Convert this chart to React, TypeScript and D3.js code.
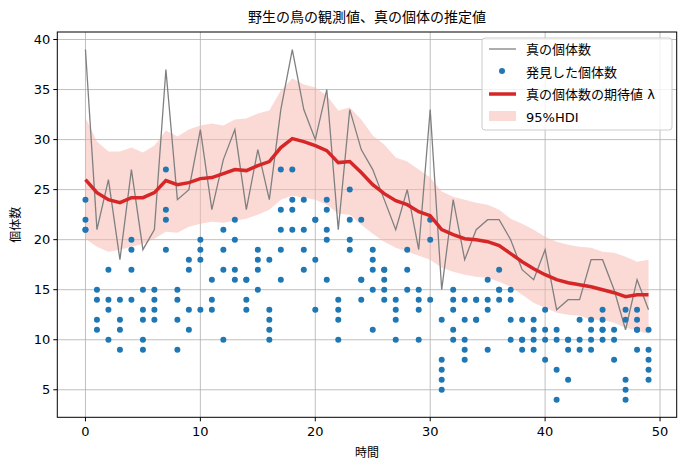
import * as d3 from "d3";

const trueCount = [39, 21, 26, 18, 27, 19, 21, 37, 24, 25, 31, 23, 28, 31, 23, 29, 24, 33, 39, 33, 30, 35, 21, 33, 29, 27, 24, 21, 25, 19, 33, 15, 24, 18, 21, 22, 22, 20, 17, 16, 19, 13, 14, 14, 18, 18, 15, 11, 16, 13];
const lambda = [26, 24.7, 24, 23.7, 24.2, 24.2, 24.7, 25.9, 25.5, 25.7, 26.1, 26.2, 26.6, 27, 26.9, 27.4, 27.8, 29.2, 30.1, 29.8, 29.4, 28.9, 27.7, 27.8, 26.7, 25.5, 24.6, 23.9, 23.5, 22.8, 22.4, 21, 20.5, 20.1, 20, 19.8, 19.4, 18.6, 17.8, 17.1, 16.5, 16, 15.7, 15.5, 15.3, 15, 14.7, 14.3, 14.5, 14.5];
const hdiUpper = [32.2, 29.8, 28.8, 28.8, 29.2, 28.7, 29.4, 30.9, 30.3, 31, 31.4, 31.6, 31.4, 32, 32.1, 32.6, 32.9, 34.9, 36.1, 35.5, 35.2, 34.4, 32.9, 33.2, 32, 30.4, 29.5, 28.2, 27.8, 27, 26.2, 24.8, 24.3, 24, 23.7, 23.5, 23, 22.1, 21.6, 21, 20.3, 19.8, 19.5, 19.3, 19.2, 18.8, 18.7, 18.3, 17.8, 18];
const hdiLower = [20.1, 19.3, 18.8, 19, 19.3, 19.6, 20.1, 20.8, 20.7, 21.3, 21.6, 21.8, 21.7, 21.9, 22.1, 22.5, 23, 24, 24.4, 24.2, 24, 23.5, 22.6, 22.5, 21.5, 20.6, 19.8, 19.2, 18.8, 18.4, 18, 17.2, 16.8, 16.5, 16.3, 16.2, 15.8, 15.3, 14.5, 13.7, 13.2, 12.7, 12.5, 12.4, 12, 12, 11.7, 11.2, 10.9, 10.6];
// observed counts for each time step
const observed = [
  [24, 22, 21, 21], [15, 14, 12, 11], [17, 14, 13, 10], [14, 12, 11, 9], [20, 19, 17, 14],
  [15, 13, 12, 10, 9], [15, 14, 13, 12], [27, 23, 22, 19], [15, 14, 12, 9], [18, 17, 13, 11],
  [20, 19, 18, 13], [16, 14, 13], [21, 19, 17, 10], [22, 20, 17, 16], [16, 16, 14, 13],
  [19, 18, 17, 15], [18, 13, 12, 11, 10], [27, 23, 21, 19, 16], [27, 24, 23, 21], [24, 21, 19, 17],
  [22, 22, 18, 13], [24, 23, 21, 20, 16], [14, 13, 12, 10], [25, 22, 20, 19], [22, 16, 16, 14],
  [19, 18, 17, 15, 11], [17, 17, 16, 15, 14], [14, 13, 12, 10], [19, 17, 15], [15, 14, 13, 10],
  [22, 20, 14], [12, 8, 7, 6, 5], [15, 14, 13, 11, 10], [14, 12, 10, 9, 8], [14, 14, 12, 12],
  [16, 14, 13, 9], [17, 15, 15, 14], [15, 14, 12, 10], [12, 10, 10, 9], [12, 11, 10, 9],
  [13, 11, 10, 8], [11, 10, 7, 4], [10, 10, 9, 6], [12, 10, 9], [12, 11, 10, 9],
  [13, 12, 11, 11, 10], [11, 10, 8], [13, 12, 6, 5, 4], [13, 12, 11, 11, 9], [11, 9, 8, 7, 6],
];
const xTicks = [0, 10, 20, 30, 40, 50];
const yTicks = [5, 10, 15, 20, 25, 30, 35, 40];

const W = 686, H = 470;
const L = 57.3, R = 676.7, T = 32, B = 417.3;
const font = "'DejaVu Sans', 'Noto Sans CJK JP', sans-serif";

export default function App() {
  const x = d3.scaleLinear().domain([-2.45, 51.45]).range([L, R]);
  const y = d3.scaleLinear().domain([2.25, 40.75]).range([B, T]);
  const t = trueCount.map((_, i) => i);
  const line = d3.line<number>().x((i) => x(i)).y((i) => y(i));
  const area = d3.area<number>().x((i) => x(i)).y0((i) => y(hdiLower[i])).y1((i) => y(hdiUpper[i]));
  const pts = observed.flatMap((vs, i) => vs.map((v) => [i, v] as const));
  const lx = 482, ly = 38;

  return (
    <div style={{ position: "absolute", left: 0, top: 0 }}>
      <svg width={W} height={H} style={{ display: "block", background: "#fff" }} fontFamily={font}>
        {xTicks.map((v) => (
          <line key={"gx" + v} x1={x(v)} x2={x(v)} y1={T} y2={B} stroke="#b0b0b0" strokeWidth={0.8} />
        ))}
        {yTicks.map((v) => (
          <line key={"gy" + v} x1={L} x2={R} y1={y(v)} y2={y(v)} stroke="#b0b0b0" strokeWidth={0.8} />
        ))}
        <path d={area(t)!} fill="#f7b5ad" fillOpacity={0.5} />
        <path d={line.y((i) => y(trueCount[i]))(t)!} fill="none" stroke="#808080" strokeWidth={1.3} />
        {pts.map(([i, v], k) => (
          <circle key={k} cx={x(i)} cy={y(v)} r={3} fill="#1f77b4" />
        ))}
        <path d={d3.line<number>().x((i) => x(i)).y((i) => y(lambda[i]))(t)!} fill="none" stroke="#d62728" strokeWidth={3.5} />
        <rect x={L} y={T} width={R - L} height={B - T} fill="none" stroke="#000" strokeWidth={1} />
        {xTicks.map((v) => (
          <g key={"tx" + v}>
            <line x1={x(v)} x2={x(v)} y1={B} y2={B + 4} stroke="#000" />
            <text x={x(v)} y={B + 19} textAnchor="middle" fontSize={13}>{v}</text>
          </g>
        ))}
        {yTicks.map((v) => (
          <g key={"ty" + v}>
            <line x1={L - 4} x2={L} y1={y(v)} y2={y(v)} stroke="#000" />
            <text x={L - 7} y={y(v) + 4.5} textAnchor="end" fontSize={13}>{v}</text>
          </g>
        ))}
        <text x={(L + R) / 2} y={22} textAnchor="middle" fontSize={14}>野生の鳥の観測値、真の個体の推定値</text>
        <text x={(L + R) / 2} y={457} textAnchor="middle" fontSize={12}>時間</text>
        <text transform={`translate(20,${(T + B) / 2}) rotate(-90)`} textAnchor="middle" fontSize={12}>個体数</text>
        <rect x={lx} y={ly} width={190} height={92} rx={3} fill="#fff" fillOpacity={0.8} stroke="#ccc" />
        <line x1={lx + 7} x2={lx + 34} y1={ly + 11} y2={ly + 11} stroke="#808080" strokeWidth={1.3} />
        <circle cx={lx + 20} cy={ly + 33} r={3} fill="#1f77b4" />
        <line x1={lx + 7} x2={lx + 34} y1={ly + 56} y2={ly + 56} stroke="#d62728" strokeWidth={3.5} />
        <rect x={lx + 7} y={ly + 73} width={27} height={10} fill="#f7b5ad" fillOpacity={0.5} />
        {["真の個体数", "発見した個体数", "真の個体数の期待値 λ", "95%HDI"].map((s, i) => (
          <text key={s} x={lx + 44} y={ly + 16 + i * 22.5} fontSize={13}>{s}</text>
        ))}
      </svg>
    </div>
  );
}
